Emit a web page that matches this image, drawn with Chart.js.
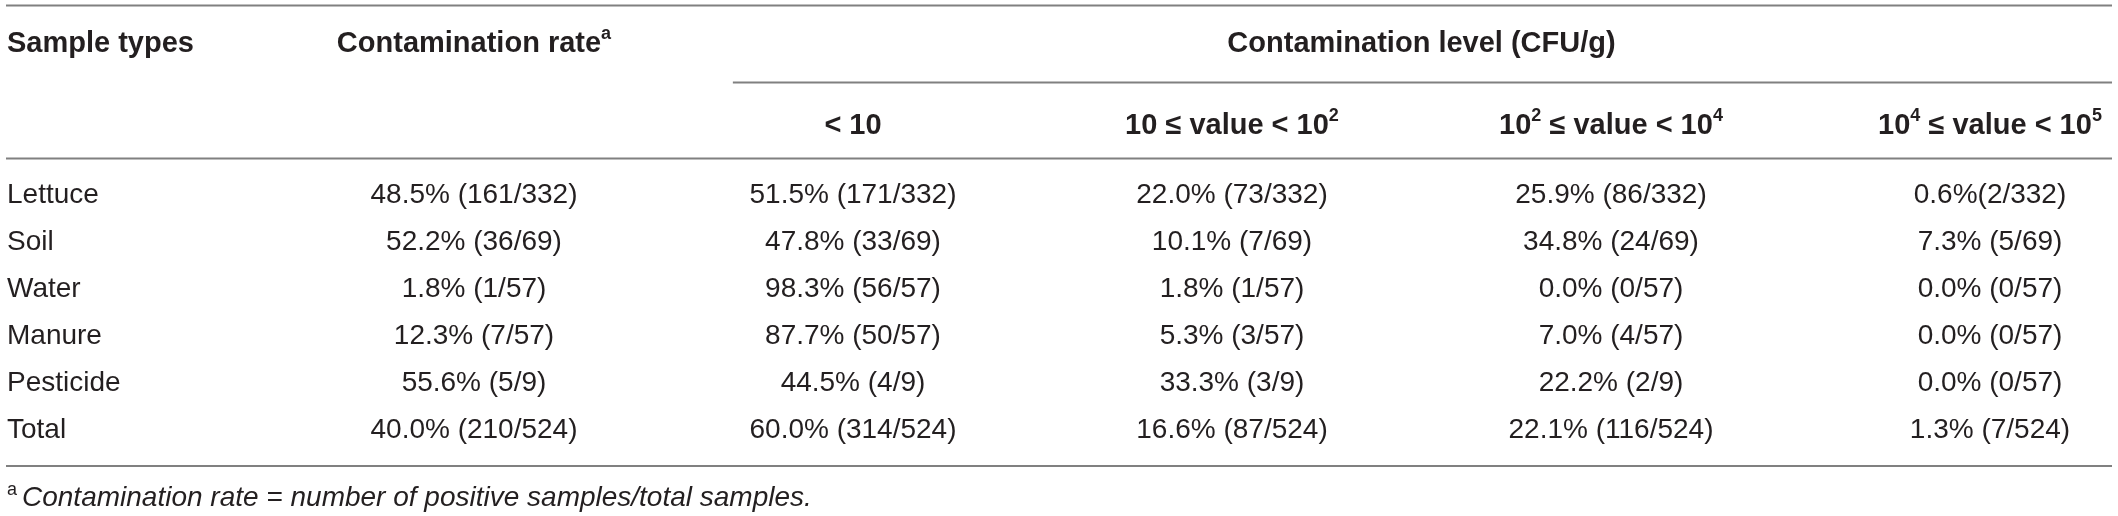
<!DOCTYPE html>
<html>
<head>
<meta charset="utf-8">
<script src="https://cdn.jsdelivr.net/npm/chart.js@4"></script>
<style>
  html, body { margin: 0; padding: 0; background: #fff; }
  #wrap { width: 2118px; height: 516px; }
</style>
</head>
<body>
<div id="wrap"><canvas id="contamination-table" width="2118" height="516"></canvas></div>
<script>
// rows
const sampleTypes = ['Lettuce', 'Soil', 'Water', 'Manure', 'Pesticide', 'Total'];
// columns ("^" marks a superscript)
const rateHeader = 'Contamination rate^a';
const levelHeader = 'Contamination level (CFU/g)';
const levelHeaders = ['< 10', '10 ≤ value < 10^2', '10^2 ≤ value < 10^4', '10^4 ≤ value < 10^5'];
// cell values
const contaminationRate = ['48.5% (161/332)', '52.2% (36/69)', '1.8% (1/57)', '12.3% (7/57)', '55.6% (5/9)', '40.0% (210/524)'];
const levelBelow10 = ['51.5% (171/332)', '47.8% (33/69)', '98.3% (56/57)', '87.7% (50/57)', '44.5% (4/9)', '60.0% (314/524)'];
const level10to1e2 = ['22.0% (73/332)', '10.1% (7/69)', '1.8% (1/57)', '5.3% (3/57)', '33.3% (3/9)', '16.6% (87/524)'];
const level1e2to1e4 = ['25.9% (86/332)', '34.8% (24/69)', '0.0% (0/57)', '7.0% (4/57)', '22.2% (2/9)', '22.1% (116/524)'];
const level1e4to1e5 = ['0.6%(2/332)', '7.3% (5/69)', '0.0% (0/57)', '0.0% (0/57)', '0.0% (0/57)', '1.3% (7/524)'];
const footnote = 'Contamination rate = number of positive samples/total samples.';

const valueColumns = [contaminationRate, levelBelow10, level10to1e2, level1e2to1e4, level1e4to1e5];
const columnKeys = ['rate'].concat(levelHeaders);

const FONT = '"Liberation Sans", Arial, Helvetica, sans-serif';
const textColor = '#231f20';
const ruleColor = '#808080';

// draw "10^2" style text, centred or left aligned, returns nothing
function drawRich(ctx, str, x, y, size, weight, align) {
  const parts = [];
  str.split(/\^(\S)/).forEach((p, i) => { if (p) parts.push({ t: p, sup: i % 2 === 1 }); });
  const supSize = Math.round(size * 0.62);
  let total = 0;
  parts.forEach(p => {
    ctx.font = weight + ' ' + (p.sup ? supSize : size) + 'px ' + FONT;
    p.w = ctx.measureText(p.t).width;
    total += p.w;
  });
  let cx = align === 'center' ? x - total / 2 : x;
  ctx.textAlign = 'left';
  parts.forEach(p => {
    ctx.font = weight + ' ' + (p.sup ? supSize : size) + 'px ' + FONT;
    ctx.fillText(p.t, cx, p.sup ? y - size * 0.32 : y);
    cx += p.w;
  });
}

const tablePlugin = {
  id: 'tableText',
  afterDatasetsDraw(chart) {
    const { ctx, chartArea, scales: { x, y } } = chart;
    const step = y.getPixelForValue(1) - y.getPixelForValue(0);
    const colStep = x.getPixelForValue(1) - x.getPixelForValue(0);
    const left = 6, right = 2112;
    const headerRule = chartArea.top - 13;
    const topRule = headerRule - 153;
    const midRule = headerRule - 76;
    const bottomRule = y.getPixelForValue(sampleTypes.length - 1) + 36;

    ctx.save();
    ctx.strokeStyle = ruleColor;
    ctx.lineWidth = 2;
    ctx.beginPath();
    [topRule, headerRule, bottomRule].forEach(ry => { ctx.moveTo(left, ry); ctx.lineTo(right, ry); });
    ctx.moveTo(x.getPixelForValue(1) - colStep * 0.317, midRule);
    ctx.lineTo(right, midRule);
    ctx.stroke();

    ctx.fillStyle = textColor;
    ctx.textBaseline = 'middle';
    // header rows
    const h1 = topRule + 38, h2 = midRule + 43;
    drawRich(ctx, 'Sample types', left + 1, h1, 29, 'bold', 'left');
    drawRich(ctx, rateHeader, x.getPixelForValue(0), h1, 29, 'bold', 'center');
    drawRich(ctx, levelHeader, (x.getPixelForValue(1) + x.getPixelForValue(levelHeaders.length)) / 2, h1, 29, 'bold', 'center');
    levelHeaders.forEach((lbl, j) => drawRich(ctx, lbl, x.getPixelForValue(j + 1), h2, 29, 'bold', 'center'));

    // body rows
    ctx.font = '28px ' + FONT;
    ctx.textAlign = 'left';
    sampleTypes.forEach((s, i) => ctx.fillText(s, left + 1, y.getPixelForValue(i)));
    ctx.textAlign = 'center';
    chart.data.datasets.forEach((ds, j) => {
      chart.getDatasetMeta(j).data.forEach((pt, i) => ctx.fillText(ds.data[i].text, pt.x, pt.y));
    });

    // footnote
    const fy = bottomRule + 32;
    ctx.textAlign = 'left';
    ctx.font = '18px ' + FONT;
    ctx.fillText('a', left + 1, fy - 8);
    ctx.font = 'italic 28px ' + FONT;
    ctx.fillText(footnote, left + 16, fy);
    ctx.restore();
  }
};

new Chart(document.getElementById('contamination-table'), {
  type: 'line',
  data: {
    labels: columnKeys,
    datasets: valueColumns.map((col, j) => ({
      data: col.map((text, i) => ({ x: columnKeys[j], y: sampleTypes[i], text: text })),
      showLine: false,
      pointRadius: 0,
      pointHoverRadius: 0
    }))
  },
  options: {
    responsive: false,
    animation: false,
    events: [],
    devicePixelRatio: 1,
    layout: { padding: { left: 474, right: 128, top: 171.5, bottom: 62.5 } },
    plugins: { legend: { display: false }, tooltip: { enabled: false } },
    scales: {
      x: { type: 'category', display: false, offset: false },
      y: { type: 'category', labels: sampleTypes, display: false, offset: true }
    }
  },
  plugins: [tablePlugin]
});
</script>
</body>
</html>
